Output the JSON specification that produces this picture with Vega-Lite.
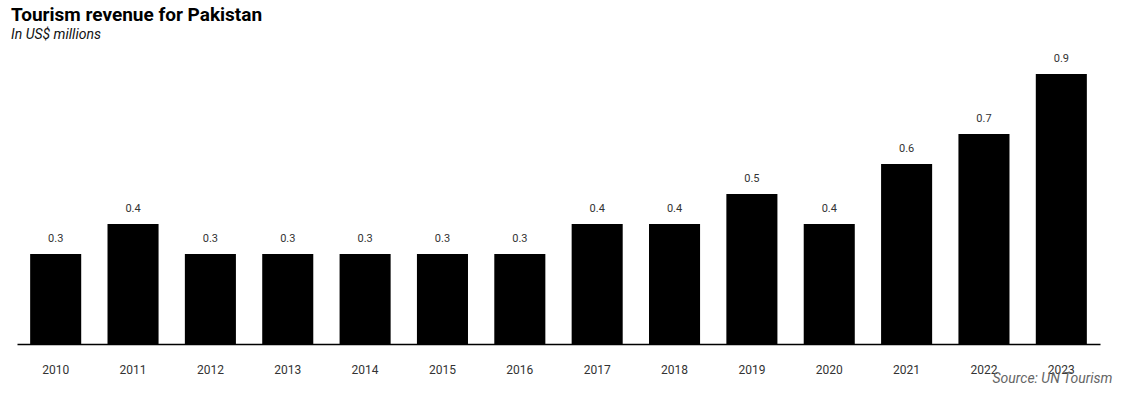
{
  "$schema": "https://vega.github.io/schema/vega-lite/v6.json",
  "width": 1083,
  "height": 300,
  "autosize": {"type": "none"},
  "padding": {"left": 17, "top": 44, "right": 25, "bottom": 52},
  "background": "white",
  "title": {
    "text": "Tourism revenue for Pakistan",
    "subtitle": "In US$ millions",
    "anchor": "start",
    "dx": -6,
    "offset": 2,
    "font": "Roboto",
    "fontSize": 19,
    "fontWeight": "bold",
    "color": "#000000",
    "subtitleFont": "Roboto",
    "subtitleFontSize": 14,
    "subtitleFontStyle": "italic",
    "subtitleColor": "#111111",
    "subtitlePadding": 3
  },
  "data": {
    "values": [
      {"year": "2010", "revenue": 0.3},
      {"year": "2011", "revenue": 0.4},
      {"year": "2012", "revenue": 0.3},
      {"year": "2013", "revenue": 0.3},
      {"year": "2014", "revenue": 0.3},
      {"year": "2015", "revenue": 0.3},
      {"year": "2016", "revenue": 0.3},
      {"year": "2017", "revenue": 0.4},
      {"year": "2018", "revenue": 0.4},
      {"year": "2019", "revenue": 0.5},
      {"year": "2020", "revenue": 0.4},
      {"year": "2021", "revenue": 0.6},
      {"year": "2022", "revenue": 0.7},
      {"year": "2023", "revenue": 0.9}
    ]
  },
  "encoding": {
    "x": {
      "field": "year",
      "type": "ordinal",
      "scale": {"paddingInner": 0.34, "paddingOuter": 0.17},
      "axis": {
        "title": "Source: UN Tourism",
        "titleFont": "Roboto",
        "titleFontSize": 14,
        "titleFontStyle": "italic",
        "titleFontWeight": "normal",
        "titleColor": "#666666",
        "titleX": 1095,
        "titleY": 34,
        "titleAlign": "right",
        "titleBaseline": "middle",
        "labelAngle": 0,
        "labelFont": "Roboto",
        "labelFontSize": 12,
        "labelColor": "#333333",
        "labelPadding": 20,
        "ticks": false,
        "domainColor": "#000000",
        "domainWidth": 1.5,
        "grid": false
      }
    },
    "y": {
      "field": "revenue",
      "type": "quantitative",
      "scale": {"domain": [0, 1]},
      "axis": null
    }
  },
  "layer": [
    {"mark": {"type": "bar", "color": "#000000"}},
    {
      "mark": {"type": "text", "dy": -15, "font": "Roboto", "fontSize": 11, "color": "#333333"},
      "encoding": {"text": {"field": "revenue", "type": "quantitative", "format": ".1f"}}
    }
  ],
  "config": {"view": {"stroke": null}}
}
